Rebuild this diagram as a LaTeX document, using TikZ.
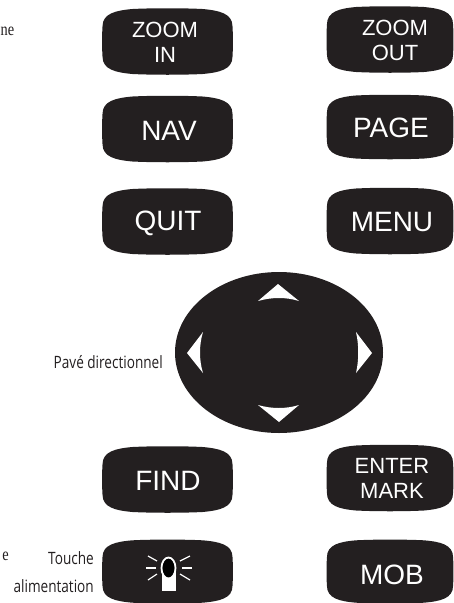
\documentclass[tikz,border=0pt]{standalone}
\usepackage{fontspec}
\setmainfont{Liberation Sans}
\newfontfamily\capfont[FakeStretch=0.8]{Open Sans}
\newfontfamily\fragfont[FakeStretch=0.8]{Liberation Serif}
\usetikzlibrary{positioning,shapes.geometric}
\definecolor{keyblk}{HTML}{231F20}
\tikzset{
  x=1pt,y=-1pt,
  keybox/.style={font=\fontsize{28}{30}\selectfont,text=white,align=center,inner sep=0pt},
  smallkey/.style={keybox,font=\fontsize{22}{25}\selectfont},
  capt/.style={font=\capfont\fontsize{17}{27.5}\selectfont,text=keyblk,inner sep=0pt},
  frag/.style={font=\fragfont\fontsize{18}{20}\selectfont,text=keyblk,inner sep=0pt},
  rayline/.style={white,line width=1.2pt},
  pics/keycap/.style={code={
    \fill[keyblk] (-65,-15) .. controls (-65,-28) and (-52,-31) .. (-35,-32.5) .. controls (-15,-33.5) and (15,-33.5) .. (35,-32.5) .. controls (52,-31) and (65,-28) .. (65,-15) .. controls (65.6,-5) and (65.6,5) .. (65,15) .. controls (65,28) and (52,31) .. (35,32.5) .. controls (15,33.5) and (-15,33.5) .. (-35,32.5) .. controls (-52,31) and (-65,28) .. (-65,15) .. controls (-65.6,5) and (-65.6,-5) .. (-65,-15) -- cycle;
  }},
}
\begin{document}
\begin{tikzpicture}
\useasboundingbox (0,0) rectangle (453,603);
% left column
\foreach \y/\sy in {41.5/1,129/1,221.5/1,479.5/1,571.5/.96}
  \pic[yscale=\sy] at (167.5,\y) {keycap};
% right column
\foreach \y/\sy in {39.5/1,127/.97,221/1,478/1,571.5/.96}
  \pic[xscale=.97,yscale=\sy] at (390,\y) {keycap};
\node[smallkey] (zoomin) at (165,42) {ZOOM\\IN};
\node[smallkey] (zoomout) at (395,40) {ZOOM\\OUT};
\node[keybox] (nav) at (169,131) {NAV};
\node[keybox] (page) at (391,128) {PAGE};
\node[keybox] (quit) at (168,223) {QUIT};
\node[keybox] (menu) at (392,222) {MENU};
\node[keybox] (find) at (168,481) {FIND};
\node[smallkey] (enter) at (392,478.5) {ENTER\\MARK};
\node[keybox] (mob) at (392,575) {MOB};
% pad
\fill[keyblk] (279,352.5) ellipse (104 and 80.5);
\fill[white] (278,284) -- (299,301) .. controls (286,297) and (272,297) .. (258,301) -- cycle;
\fill[white] (279,422) -- (258,405) .. controls (272,409) and (286,409) .. (299,405) -- cycle;
\fill[white] (187,353) -- (203,332) .. controls (199,345) and (199,360) .. (203,373) -- cycle;
\fill[white] (372,353) -- (356,332) .. controls (359,345) and (359,360) .. (356,373) -- cycle;
\node[capt,anchor=east] (pave) at (163,362) {Pavé directionnel};
\node[capt,anchor=east,align=right] (touche) at (94,572) {Touche\\alimentation};
\node[frag,anchor=east] (frag1) at (14.5,31) {ne};
\node[frag,anchor=east] (frag2) at (9,556) {e};
% lamp
\fill[white] (162,572) rectangle (176,591);
\fill[black,draw=white,line width=1.8pt] (168.5,568) ellipse (7 and 10.5);
\foreach \a/\b/\c/\d in {146/568/156/568,148/556/157/561,148/580/157/574,182/568/192/568,180/561/190/556,180/574/190/580}
  \draw[rayline] (\a,\b) -- (\c,\d);
\end{tikzpicture}
\end{document}
